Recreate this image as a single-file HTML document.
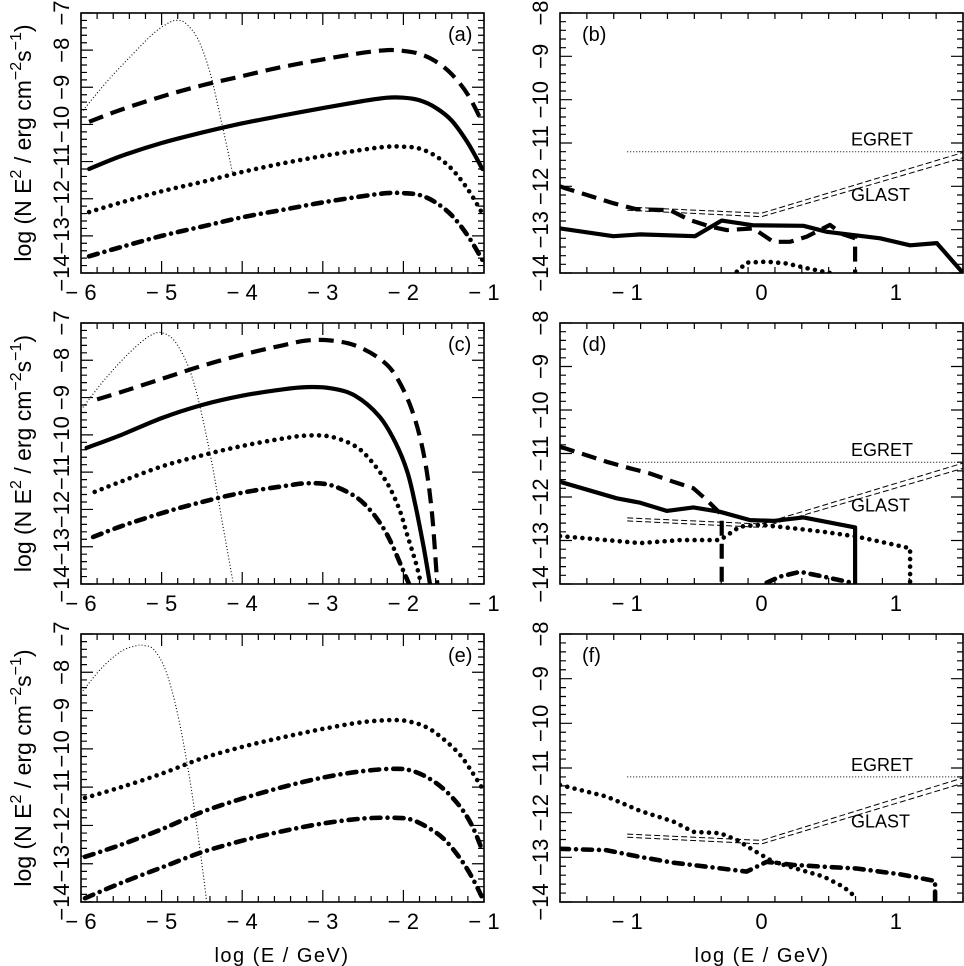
<!DOCTYPE html>
<html><head><meta charset="utf-8"><style>
html,body{margin:0;padding:0;background:#fff;}
svg{display:block;font-family:"Liberation Sans",sans-serif;}
</style></head><body>
<svg id="fig" width="964" height="966" viewBox="0 0 964 966" xmlns="http://www.w3.org/2000/svg"></svg>
<script>
// ---------- data (log E, log NE^2) ----------
// panel a
const aSeedX=[-6,-5.7,-5.4,-5.1,-4.9,-4.8,-4.7,-4.55,-4.4,-4.25,-4.12];
const aSeedY=[-9.69,-8.9,-8.2,-7.55,-7.25,-7.2,-7.28,-7.7,-8.6,-10.0,-11.3];
const aX=[-5.9,-5.5,-5,-4.5,-4,-3.5,-3,-2.5,-2.2,-2,-1.8,-1.6,-1.4,-1.2,-1.02];
const aDashed=[-9.93,-9.6,-9.25,-8.95,-8.7,-8.45,-8.25,-8.07,-8.0,-8.02,-8.1,-8.3,-8.65,-9.2,-9.95];
const aSolid=[-11.2,-10.85,-10.5,-10.22,-9.97,-9.76,-9.56,-9.37,-9.28,-9.28,-9.35,-9.55,-9.9,-10.5,-11.2];
const aDotted=[-12.36,-12.1,-11.8,-11.55,-11.28,-11.05,-10.85,-10.68,-10.6,-10.6,-10.65,-10.85,-11.2,-11.75,-12.4];
const aDashdot=[-13.55,-13.3,-13.0,-12.75,-12.5,-12.3,-12.1,-11.93,-11.85,-11.85,-11.9,-12.1,-12.45,-13.0,-13.65];
// panel c
const cSeedX=[-6,-5.7,-5.4,-5.15,-4.98,-4.8,-4.6,-4.4,-4.25,-4.11];
const cSeedY=[-9.33,-8.5,-7.8,-7.35,-7.27,-7.6,-8.6,-10.5,-12.3,-14];
const cDashedX=[-5.8,-5.5,-5,-4.5,-4,-3.5,-3.2,-2.9,-2.6,-2.3,-2.1,-1.9,-1.75,-1.65,-1.58];
const cDashedY=[-9.05,-8.85,-8.5,-8.15,-7.85,-7.6,-7.47,-7.47,-7.6,-7.95,-8.4,-9.3,-10.5,-12,-14];
const cSolidX=[-5.93,-5.5,-5,-4.5,-4,-3.5,-3.2,-2.9,-2.6,-2.3,-2.1,-1.95,-1.85,-1.75,-1.67];
const cSolidY=[-10.35,-10.0,-9.55,-9.2,-8.95,-8.78,-8.72,-8.75,-8.95,-9.5,-10.2,-11,-11.9,-13,-14];
const cDottedX=[-5.83,-5.5,-5,-4.5,-4,-3.5,-3.2,-2.9,-2.6,-2.4,-2.2,-2.05,-1.95,-1.85,-1.78];
const cDottedY=[-11.53,-11.25,-10.85,-10.55,-10.3,-10.1,-10.02,-10.05,-10.3,-10.7,-11.3,-12,-12.7,-13.4,-14];
const cDashdotX=[-5.85,-5.5,-5,-4.5,-4,-3.5,-3.2,-2.9,-2.6,-2.4,-2.25,-2.15,-2.05,-1.98,-1.93];
const cDashdotY=[-12.74,-12.45,-12.1,-11.8,-11.55,-11.38,-11.3,-11.35,-11.65,-12.05,-12.5,-12.9,-13.4,-13.75,-14];
// panel e
const eSeedX=[-6,-5.75,-5.5,-5.3,-5.23,-5.1,-4.95,-4.8,-4.65,-4.52,-4.44];
const eSeedY=[-8.55,-7.9,-7.45,-7.3,-7.3,-7.4,-7.95,-9.1,-10.8,-12.7,-14];
const eX=[-5.95,-5.5,-5,-4.5,-4,-3.5,-3,-2.5,-2.1,-1.9,-1.7,-1.5,-1.3,-1.15,-1.03];
const eDotted=[-11.28,-11.0,-10.65,-10.25,-9.95,-9.7,-9.48,-9.3,-9.25,-9.3,-9.45,-9.75,-10.15,-10.6,-11.0];
const eDashdot1=[-12.82,-12.5,-12.1,-11.65,-11.3,-11.0,-10.75,-10.58,-10.52,-10.57,-10.75,-11.05,-11.5,-12.0,-12.6];
const eDashdot2=[-13.9,-13.5,-13.1,-12.7,-12.4,-12.15,-11.95,-11.82,-11.8,-11.85,-12.05,-12.35,-12.85,-13.35,-13.85];
// sensitivity curves (right panels)
const egretX=[-1,1.5];
const egretY=[-11.2,-11.2];
const glastX=[-1,0,1.5];
const glastUpperY=[-12.48,-12.62,-11.22];
const glastLowerY=[-12.55,-12.7,-11.34];
// panel b
const bDashedX=[-1.5,-1.463,-1.103,-0.929,-0.681,-0.532,-0.383,-0.259,-0.061,0.088,0.213,0.337,0.51,0.6,0.697,0.697];
const bDashedY=[-12.0,-12.04,-12.39,-12.53,-12.55,-12.78,-12.93,-13.01,-12.97,-13.28,-13.28,-13.16,-12.89,-13.1,-13.2,-14];
const bSolidX=[-1.5,-1.103,-0.904,-0.495,-0.296,-0.061,0.312,0.486,0.883,1.106,1.305,1.5];
const bSolidY=[-12.97,-13.15,-13.11,-13.15,-12.79,-12.9,-12.91,-13.05,-13.2,-13.36,-13.31,-14.0];
const bDottedX=[-0.184,-0.11,0.039,0.188,0.337,0.51];
const bDottedY=[-13.97,-13.76,-13.74,-13.78,-13.89,-14.0];
// panel d
const dDashedX=[-1.5,-1.463,-1.152,-0.979,-0.83,-0.656,-0.507,-0.408,-0.309,-0.296,-0.296];
const dDashedY=[-10.85,-10.88,-11.19,-11.34,-11.46,-11.65,-11.8,-12.07,-12.37,-12.53,-14];
const dSolidX=[-1.5,-1.078,-0.904,-0.706,-0.507,-0.309,-0.085,0.088,0.312,0.697,0.697];
const dSolidY=[-11.65,-12.03,-12.13,-12.32,-12.24,-12.34,-12.53,-12.55,-12.47,-12.7,-14];
const dDottedX=[-1.5,-1.152,-0.904,-0.606,-0.309,-0.16,-0.011,0.237,0.461,0.709,0.933,1.106,1.106];
const dDottedY=[-12.9,-12.99,-13.06,-12.99,-12.99,-12.68,-12.64,-12.72,-12.8,-12.91,-13.06,-13.18,-14];
const dDashdotX=[0.039,0.138,0.287,0.461,0.684];
const dDashdotY=[-13.97,-13.83,-13.72,-13.83,-13.98];
// panel f
const fDottedX=[-1.5,-1.152,-0.904,-0.656,-0.507,-0.309,-0.184,-0.061,0.088,0.287,0.461,0.61,0.697];
const fDottedY=[-11.38,-11.64,-11.96,-12.2,-12.43,-12.46,-12.61,-12.84,-13.1,-13.28,-13.43,-13.66,-13.88];
const fDashdotX=[-1.5,-1.152,-0.904,-0.656,-0.408,-0.11,0.039,0.237,0.461,0.709,1.032,1.292,1.292];
const fDashdotY=[-12.81,-12.84,-12.99,-13.12,-13.21,-13.32,-13.1,-13.17,-13.21,-13.25,-13.38,-13.53,-13.96];

const leftXTicks=[-6,-5,-4,-3,-2,-1];
const leftYTicks=[-7,-8,-9,-10,-11,-12,-13,-14];
const rightXTicks=[-1,0,1];
const rightYTicks=[-8,-9,-10,-11,-12,-13,-14];
const panelLetters=["(a)","(b)","(c)","(d)","(e)","(f)"];

// ---------- drawing ----------
const NS="http://www.w3.org/2000/svg";
const svg=document.getElementById('fig');
function mk(tag,attrs,parent){const e=document.createElementNS(NS,tag);for(const k in attrs)e.setAttribute(k,attrs[k]);(parent||svg).appendChild(e);return e;}
const rows=[[13,273],[323,584],[634,902]];
const L={x0:81,x1:484,xmin:-6,xmax:-1,ymin:-14,ymax:-7};
const R={x0:560,x1:963,xmin:-1.5,xmax:1.5,ymin:-14,ymax:-8};
const styles={
 seed:{w:1.1,d:"1 2.2",cap:"butt"},
 dashed:{w:4.2,d:"15 8",cap:"butt"},
 solid:{w:4.2,d:"",cap:"round"},
 dotted:{w:4.6,d:"0 7.5",cap:"round"},
 dashdot:{w:4.6,d:"9 7 0 7",cap:"round"},
 thinDashed:{w:1,d:"6 3",cap:"butt"},
 thinDotted:{w:1,d:"1 2",cap:"butt"}
};
function makeAxes(spec,row){
 const y0=row[0],y1=row[1];
 const sx=v=>spec.x0+(v-spec.xmin)/(spec.xmax-spec.xmin)*(spec.x1-spec.x0);
 const sy=v=>y1-(v-spec.ymin)/(spec.ymax-spec.ymin)*(y1-y0);
 return {sx,sy,y0,y1};
}
function smoothPath(pts){
 let d=`M${pts[0][0].toFixed(1)},${pts[0][1].toFixed(1)}`;
 for(let i=0;i<pts.length-1;i++){
  const p0=pts[Math.max(0,i-1)],p1=pts[i],p2=pts[i+1],p3=pts[Math.min(pts.length-1,i+2)];
  const c1=[p1[0]+(p2[0]-p0[0])/6,p1[1]+(p2[1]-p0[1])/6];
  const c2=[p2[0]-(p3[0]-p1[0])/6,p2[1]-(p3[1]-p1[1])/6];
  d+=`C${c1[0].toFixed(1)},${c1[1].toFixed(1)} ${c2[0].toFixed(1)},${c2[1].toFixed(1)} ${p2[0].toFixed(1)},${p2[1].toFixed(1)}`;
 }
 return d;
}
function series(ax,xs,ys,style,name,smooth,g){
 const pts=xs.map((x,i)=>[ax.sx(x),ax.sy(ys[i])]);
 const d=smooth?smoothPath(pts):"M"+pts.map(p=>p[0].toFixed(1)+","+p[1].toFixed(1)).join("L");
 const s=styles[style];
 const p=mk('path',{d:d,fill:'none',stroke:'#000','stroke-width':s.w,'stroke-linecap':s.cap,'stroke-linejoin':'round'},g);
 if(s.d)p.setAttribute('stroke-dasharray',s.d);
 
 
}
function drawFrame(spec,ax,xt,yt,isLeft,idx){
 const g=mk('g',{});
 
 
 const clipId='clip'+idx;
 const cp=mk('clipPath',{id:clipId},g);
 mk('rect',{x:spec.x0,y:ax.y0,width:spec.x1-spec.x0,height:ax.y1-ax.y0},cp);
 const frame=mk('rect',{x:spec.x0,y:ax.y0,width:spec.x1-spec.x0,height:ax.y1-ax.y0,fill:'none',stroke:'#000','stroke-width':1.6},g);
 
 
 let td="";
 for(let v=spec.xmin;v<=spec.xmax+1e-6;v+=0.2){
  const vv=Math.round(v*10)/10;const major=Math.abs(vv-Math.round(vv))<1e-6;const len=major?12:6;const x=ax.sx(vv);
  td+=`M${x},${ax.y1}v${-len}M${x},${ax.y0}v${len}`;
 }
 for(let v=spec.ymin;v<=spec.ymax+1e-6;v+=0.2){
  const vv=Math.round(v*10)/10;const major=Math.abs(vv-Math.round(vv))<1e-6;const len=major?12:6;const y=ax.sy(vv);
  td+=`M${spec.x0},${y}h${len}M${spec.x1},${y}h${-len}`;
 }
 const t=mk('path',{d:td,stroke:'#000','stroke-width':1.2,fill:'none'},g);
 
 
 xt.forEach(v=>{
  const tx=mk('text',{x:ax.sx(v),y:ax.y1+27,'font-size':22,'text-anchor':'middle'},g);
  tx.textContent=(v<0?"\u2212 ":"")+Math.abs(v);
  
  
 });
 const lx=isLeft?69:548;
 yt.forEach(v=>{
  const y=ax.sy(v);
  const tx=mk('text',{x:0,y:0,'font-size':22,'text-anchor':'middle',transform:`translate(${lx},${y}) rotate(-90)`},g);
  tx.textContent=(v<0?"\u2212":"")+Math.abs(v);
  
  
 });
 const lab=mk('text',{x:isLeft?spec.x1-36:spec.x0+22,y:ax.y0+28,'font-size':20},g);
 lab.textContent=panelLetters[idx];
 
 
 const inner=mk('g',{'clip-path':`url(#${clipId})`},g);
 return inner;
}
function yTitle(row){
 const mid=(row[0]+row[1])/2;
 const t=mk('text',{x:0,y:0,'font-size':23,'text-anchor':'middle',transform:`translate(31,${mid}) rotate(-90)`});
 t.innerHTML='log (N E<tspan dy="-10" font-size="16">2</tspan><tspan dy="10"> / erg cm</tspan><tspan dy="-10" font-size="16">\u22122</tspan><tspan dy="10">s</tspan><tspan dy="-10" font-size="16">\u22121</tspan><tspan dy="10">)</tspan>';
 
 
}
function sens(ax,g){
 series(ax,egretX,egretY,'thinDotted','egret-sensitivity',false,g);
 series(ax,glastX,glastUpperY,'thinDashed','glast-sensitivity-upper',false,g);
 series(ax,glastX,glastLowerY,'thinDashed','glast-sensitivity-lower',false,g);
 const e=mk('text',{x:851,y:ax.sy(-11.2)-6,'font-size':18},g.parentNode);
 e.textContent='EGRET';
 
 
 const gl=mk('text',{x:851,y:ax.sy(-12.15)+8,'font-size':18},g.parentNode);
 gl.textContent='GLAST';
 
 
}
// row 1
let ax=makeAxes(L,rows[0]);let g=drawFrame(L,ax,leftXTicks,leftYTicks,true,0);
series(ax,aSeedX,aSeedY,'seed','seed-photon-spectrum',true,g);
series(ax,aX,aDashed,'dashed','dashed-spectrum',true,g);
series(ax,aX,aSolid,'solid','solid-spectrum',true,g);
series(ax,aX,aDotted,'dotted','dotted-spectrum',true,g);
series(ax,aX,aDashdot,'dashdot','dashdot-spectrum',true,g);
ax=makeAxes(R,rows[0]);g=drawFrame(R,ax,rightXTicks,rightYTicks,false,1);
sens(ax,g);
series(ax,bDashedX,bDashedY,'dashed','dashed-spectrum',false,g);
series(ax,bSolidX,bSolidY,'solid','solid-spectrum',false,g);
series(ax,bDottedX,bDottedY,'dotted','dotted-spectrum',false,g);
// row 2
ax=makeAxes(L,rows[1]);g=drawFrame(L,ax,leftXTicks,leftYTicks,true,2);
series(ax,cSeedX,cSeedY,'seed','seed-photon-spectrum',true,g);
series(ax,cDashedX,cDashedY,'dashed','dashed-spectrum',true,g);
series(ax,cSolidX,cSolidY,'solid','solid-spectrum',true,g);
series(ax,cDottedX,cDottedY,'dotted','dotted-spectrum',true,g);
series(ax,cDashdotX,cDashdotY,'dashdot','dashdot-spectrum',true,g);
ax=makeAxes(R,rows[1]);g=drawFrame(R,ax,rightXTicks,rightYTicks,false,3);
sens(ax,g);
series(ax,dDashedX,dDashedY,'dashed','dashed-spectrum',false,g);
series(ax,dSolidX,dSolidY,'solid','solid-spectrum',false,g);
series(ax,dDottedX,dDottedY,'dotted','dotted-spectrum',false,g);
series(ax,dDashdotX,dDashdotY,'dashdot','dashdot-spectrum',false,g);
// row 3
ax=makeAxes(L,rows[2]);g=drawFrame(L,ax,leftXTicks,leftYTicks,true,4);
series(ax,eSeedX,eSeedY,'seed','seed-photon-spectrum',true,g);
series(ax,eX,eDotted,'dotted','dotted-spectrum',true,g);
series(ax,eX,eDashdot1,'dashdot','dashdot-spectrum-upper',true,g);
series(ax,eX,eDashdot2,'dashdot','dashdot-spectrum-lower',true,g);
ax=makeAxes(R,rows[2]);g=drawFrame(R,ax,rightXTicks,rightYTicks,false,5);
sens(ax,g);
series(ax,fDottedX,fDottedY,'dotted','dotted-spectrum',false,g);
series(ax,fDashdotX,fDashdotY,'dashdot','dashdot-spectrum',false,g);
// axis titles
[[282],[762]].forEach(c=>{
 const t=mk('text',{x:c[0],y:962,'font-size':20,'text-anchor':'middle','letter-spacing':'1.5'});
 t.textContent='log (E / GeV)';
 
 
});
rows.forEach(r=>yTitle(r));
</script>
</body></html>
